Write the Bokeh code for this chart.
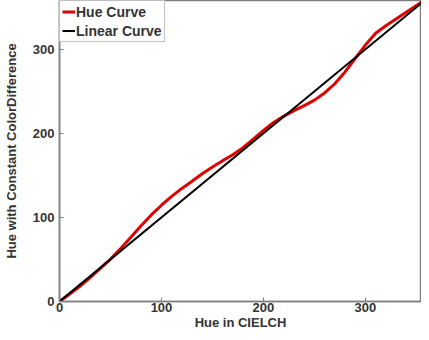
from bokeh.plotting import figure
from bokeh.models import Range1d, Legend, LegendItem, FixedTicker
from bokeh.embed import file_html
from bokeh.resources import INLINE

# Data
hue_x = [0, 10, 20, 30, 40, 50, 60, 70, 80, 90, 100, 110, 120, 130, 140, 150, 160, 170, 180,
         190, 200, 210, 220, 230, 240, 250, 260, 270, 280, 290, 300, 310, 320, 330, 340, 350, 360]
hue_y = [0, 9, 18, 28.5, 39.5, 50.5, 63, 76.5, 90, 103, 114.5, 125, 134.5, 143, 152, 160, 167.5,
         174.5, 183, 193, 203.5, 213, 220.5, 227, 233, 239.5, 248, 259, 273, 289, 305, 319, 328,
         336, 344, 352, 360]
lin_x = [0, 360]
lin_y = [0, 360]
ticks = [0, 100, 200, 300]

FONT = "Liberation Sans"
TXT = "#333333"
AX = "#7f7f7f"

p = figure(width=421, height=332, output_backend="svg", toolbar_location=None,
           x_range=Range1d(0, 355), y_range=Range1d(0, 358),
           min_border_top=0, min_border_right=0, min_border_left=0, min_border_bottom=0)
p.xgrid.visible = False
p.ygrid.visible = False
p.outline_line_color = AX
p.outline_line_width = 1.5
p.background_fill_color = "white"
p.border_fill_color = "white"

for ax in (p.xaxis[0], p.yaxis[0]):
    ax.ticker = FixedTicker(ticks=ticks)
    ax.minor_tick_line_color = None
    ax.major_tick_in = 4
    ax.major_tick_out = 0
    ax.major_tick_line_color = AX
    ax.axis_line_color = AX
    ax.axis_line_width = 1.5
    ax.major_label_text_font = FONT
    ax.major_label_text_font_style = "bold"
    ax.major_label_text_font_size = "13px"
    ax.major_label_text_color = TXT
    ax.axis_label_text_font = FONT
    ax.axis_label_text_font_style = "bold"
    ax.axis_label_text_font_size = "13px"
    ax.axis_label_text_color = TXT

p.xaxis[0].axis_label = "Hue in CIELCH"
p.xaxis[0].axis_label_standoff = 0
p.xaxis[0].major_label_standoff = 1
p.yaxis[0].axis_label = "Hue with Constant ColorDifference"
p.yaxis[0].axis_label_standoff = 11
p.yaxis[0].major_label_standoff = 5

r_hue = p.line(hue_x, hue_y, line_color="#e00000", line_width=3, line_join="round")
r_lin = p.line(lin_x, lin_y, line_color="black", line_width=2)

legend = Legend(items=[LegendItem(label="Hue Curve", renderers=[r_hue]),
                       LegendItem(label="Linear Curve", renderers=[r_lin])],
                location="top_left")
legend.label_text_font = FONT
legend.label_text_font_style = "bold"
legend.label_text_font_size = "14px"
legend.label_text_color = TXT
legend.border_line_color = AX
legend.border_line_width = 1.5
legend.margin = 0
legend.padding = 2
legend.spacing = 2
legend.glyph_width = 13
legend.glyph_height = 17
legend.label_height = 17
legend.label_standoff = 1
legend.background_fill_alpha = 1
p.add_layout(legend)

open("out.html", "w").write(file_html(p, INLINE))
